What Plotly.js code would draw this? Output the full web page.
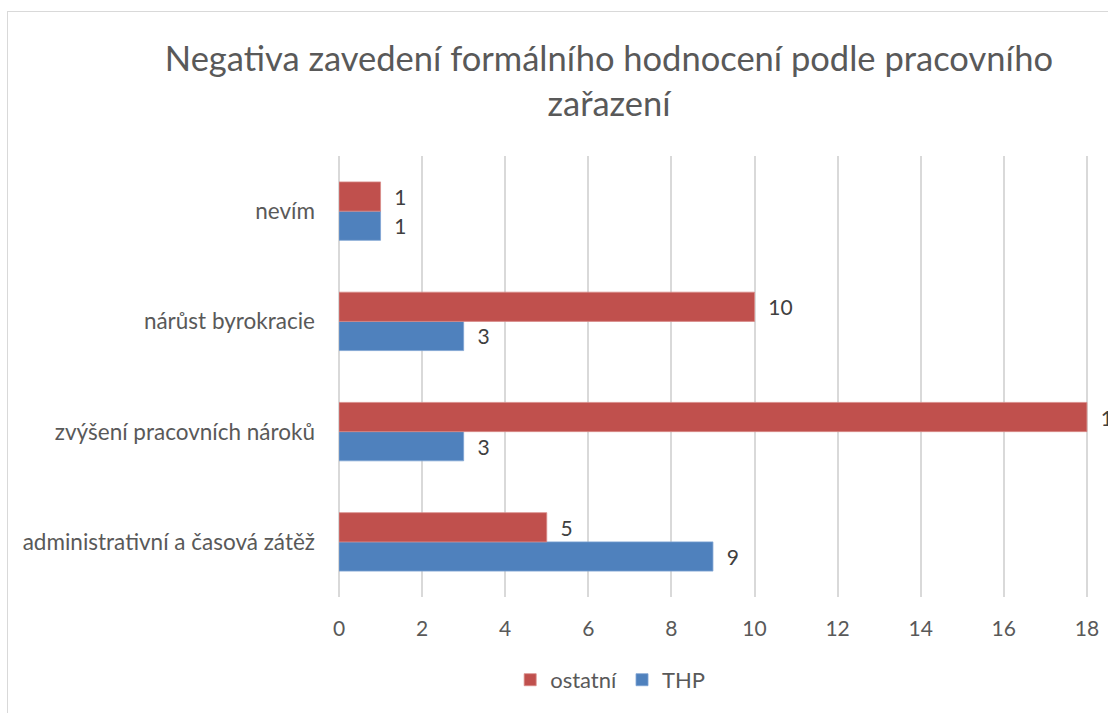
<!DOCTYPE html>
<html>
<head>
<meta charset="utf-8">
<script src="https://cdn.plot.ly/plotly-3.0.1.min.js"></script>
<style>
  html, body { margin: 0; padding: 0; overflow: hidden; background: #fff; width: 1108px; height: 713px; }
  #frame { position: absolute; left: 7px; top: 11px; border: 1px solid #d9d9d9; }
  #chart { width: 1202px; height: 720px; }
</style>
</head>
<body>
<div id="frame"><div id="chart"></div></div>
<script>
const categories = ["administrativní a časová zátěž", "zvýšení pracovních nároků", "nárůst byrokracie", "nevím"];
const seriesNames = ["ostatní", "THP"];
const ostatni = [5, 18, 10, 1];
const thp = [9, 3, 3, 1];
const tickVals = [0, 2, 4, 6, 8, 10, 12, 14, 16, 18, 20];

const FONT = "Lato, 'Open Sans', sans-serif";
const pad = "\u00a0\u00a0";

const traces = [
  {
    type: "bar", orientation: "h", name: seriesNames[1],
    y: categories, x: thp,
    marker: { color: "#4F81BD", line: { color: "#7EA3D3", width: 0.8 } },
    text: thp.map(v => pad + v), textposition: "outside", cliponaxis: false,
    textfont: { family: FONT, size: 21, color: "#404040" },
    hoverinfo: "x+y"
  },
  {
    type: "bar", orientation: "h", name: seriesNames[0],
    y: categories, x: ostatni,
    marker: { color: "#C0504D", line: { color: "#D88A88", width: 0.8 } },
    text: ostatni.map(v => pad + v), textposition: "outside", cliponaxis: false,
    textfont: { family: FONT, size: 21, color: "#404040" },
    hoverinfo: "x+y"
  }
];

const layout = {
  width: 1202, height: 720, autosize: false,
  margin: { l: 331, r: 40, t: 144, b: 135, autoexpand: false },
  paper_bgcolor: "#ffffff", plot_bgcolor: "#ffffff",
  font: { family: FONT, color: "#595959", size: 21 },
  title: {
    text: "Negativa zavedení formálního hodnocení podle pracovního<br>zařazení",
    font: { family: FONT, size: 34.5, color: "#595959" },
    x: 0.5, xanchor: "center", xref: "container",
    y: 0.918, yanchor: "top", yref: "container"
  },
  barmode: "group", bargap: 0.47, bargroupgap: 0,
  xaxis: {
    range: [0, 20], tickvals: tickVals, ticktext: tickVals.map(String),
    tickangle: 0, ticklabelstandoff: 17,
    showgrid: true, gridcolor: "#d9d9d9", gridwidth: 2,
    zeroline: true, zerolinecolor: "#d9d9d9", zerolinewidth: 2,
    showline: false, ticks: "",
    tickfont: { family: FONT, size: 21, color: "#595959" }, fixedrange: true
  },
  yaxis: {
    type: "category", categoryorder: "array", categoryarray: categories,
    showgrid: false, zeroline: false, showline: false, ticks: "",
    ticksuffix: "\u00a0\u00a0\u00a0\u00a0",
    tickfont: { family: FONT, size: 22.5, color: "#595959" }, fixedrange: true
  },
  showlegend: true,
  legend: {
    orientation: "h", traceorder: "reversed",
    x: 0.206, xanchor: "left",
    y: -0.188, yanchor: "middle",
    font: { family: FONT, size: 22, color: "#595959" }
  }
};

Plotly.newPlot("chart", traces, layout, { displayModeBar: false, staticPlot: true });
</script>
</body>
</html>
